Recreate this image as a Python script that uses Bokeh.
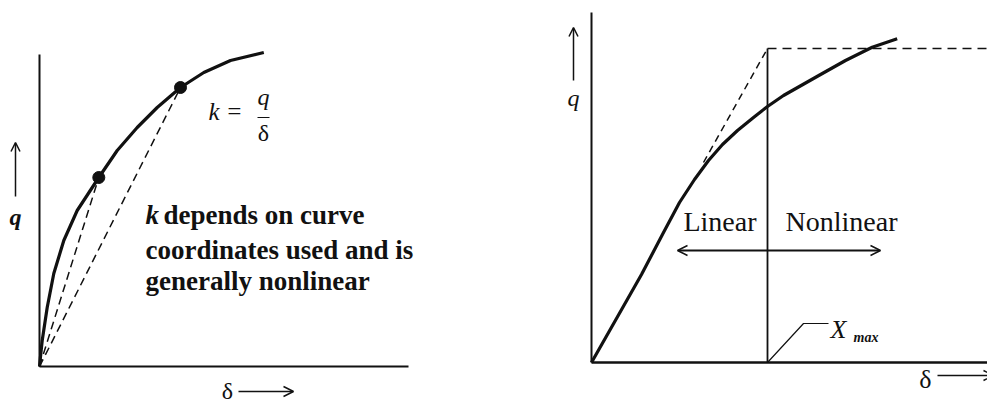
from bokeh.plotting import figure
from bokeh.layouts import row
from bokeh.models import Range1d, Arrow, OpenHead
from bokeh.core.properties import value
from bokeh.embed import file_html
from bokeh.resources import INLINE

# ---- data (deflection delta, load q), units measured from each origin ----
left_delta = [0, 1, 2.7, 7.7, 14.3, 24.3, 37.7, 59.3, 77.7, 97.7, 117.7, 141, 164.3, 191, 224.3]
left_q = [0, 10, 26, 59, 93, 126, 156, 189, 216, 239, 259, 279, 294, 306, 314]
secant_idx = [7, 11]  # curve points used for the two secant stiffnesses

right_delta = [0, 25, 50, 72, 88, 103, 117, 131, 146, 162, 176, 192, 227.3, 254, 280.7, 305.7]
right_q = [0, 44, 88, 130, 160, 183, 202, 218, 232, 245, 256, 267, 287, 302, 315.3, 323.7]
x_max = 176          # end of the linear range
q_cap = 314          # horizontal dashed limit
tangent_start = [112, 200]

note_first = "k"
note_lines = ["depends on curve", "coordinates used and is", "generally nonlinear"]
SERIF = value("Liberation Serif")
INK = "#111111"


def blank(width, xr, yr):
    f = figure(width=width, height=404, x_range=Range1d(*xr), y_range=Range1d(*yr),
               output_backend="svg", toolbar_location=None,
               x_axis_location=None, y_axis_location=None, min_border=0)
    f.grid.visible = False
    f.outline_line_color = None
    f.background_fill_color = "white"
    f.border_fill_color = "white"
    return f


# ---------------- left panel: secant stiffness ----------------
p1 = blank(470, (-39, 431), (-38, 366))
p1.line([0, 0], [0, 312], line_color=INK, line_width=2)
p1.line([0, 369], [0, 0], line_color=INK, line_width=2)
p1.line(left_delta, left_q, line_color=INK, line_width=3.2, line_join="round")
for i in secant_idx:
    p1.line([0, left_delta[i]], [0, left_q[i]], line_color=INK, line_width=1.5, line_dash="8 5")
p1.scatter([left_delta[i] for i in secant_idx], [left_q[i] for i in secant_idx],
           size=12, color=INK)

p1.text([169], [255], text=["k ="], text_font=SERIF, text_font_size="25px",
        text_font_style="italic", text_baseline="middle", text_color=INK)
p1.text([224], [270], text=["q"], text_font=SERIF, text_font_size="24px",
        text_font_style="italic", text_align="center", text_baseline="middle", text_color=INK)
p1.line([218, 230], [249, 249], line_color=INK, line_width=1)
p1.text([224], [234], text=["δ"], text_font=SERIF, text_font_size="24px",
        text_align="center", text_baseline="middle", text_color=INK)

# note block, first word in italics
p1.text([106], [152], text=[note_first], text_font=SERIF, text_font_size="27px",
        text_font_style="bold italic", text_baseline="alphabetic", text_color=INK)
p1.text([124, 106, 106], [152, 117, 86], text=note_lines, text_font=SERIF,
        text_font_size="27px", text_font_style="bold", text_baseline="alphabetic",
        text_color=INK)

# axis labels
p1.add_layout(Arrow(end=OpenHead(size=9, line_width=1.5, line_color=INK),
                    x_start=-24, y_start=170, x_end=-24, y_end=224,
                    line_width=1.5, line_color=INK))
p1.text([-24], [150], text=["q"], text_font=SERIF, text_font_size="24px",
        text_font_style="bold italic", text_align="center", text_baseline="middle",
        text_color=INK)
p1.text([188], [-24], text=["δ"], text_font=SERIF, text_font_size="24px",
        text_align="center", text_baseline="middle", text_color=INK)
p1.add_layout(Arrow(end=OpenHead(size=10, line_width=1.5, line_color=INK),
                    x_start=199, y_start=-25, x_end=254, y_end=-25,
                    line_width=1.5, line_color=INK))

# ---------------- right panel: linear / nonlinear range ----------------
p2 = blank(517, (-121, 396), (-42, 362))
p2.line([0, 0], [0, 350], line_color=INK, line_width=2)
p2.line([0, 400], [0, 0], line_color=INK, line_width=2.5)
p2.line(right_delta, right_q, line_color=INK, line_width=3.2, line_join="round")
p2.line([tangent_start[0], x_max], [tangent_start[1], q_cap], line_color=INK,
        line_width=1.5, line_dash="7 5")
p2.line([x_max, 400], [q_cap, q_cap], line_color=INK, line_width=1.5, line_dash="9 6")
p2.line([x_max, x_max], [0, q_cap], line_color=INK, line_width=1.8)

p2.text([165], [141], text=["Linear"], text_font=SERIF, text_font_size="28px",
        text_align="right", text_baseline="alphabetic", text_color=INK)
p2.text([194], [141], text=["Nonlinear"], text_font=SERIF, text_font_size="28px",
        text_baseline="alphabetic", text_color=INK)
p2.add_layout(Arrow(start=OpenHead(size=10, line_width=1.5, line_color=INK),
                    end=OpenHead(size=10, line_width=1.5, line_color=INK),
                    x_start=86, y_start=112, x_end=289, y_end=112,
                    line_width=1.8, line_color=INK))

p2.line([x_max, 212, 237], [0, 39, 39], line_color=INK, line_width=1.2)
p2.text([239], [33], text=["X"], text_font=SERIF, text_font_size="26px",
        text_font_style="italic", text_baseline="alphabetic", text_color=INK)
p2.text([262], [25], text=["max"], text_font=SERIF, text_font_size="14px",
        text_font_style="bold italic", text_baseline="alphabetic", text_color=INK)

p2.add_layout(Arrow(end=OpenHead(size=9, line_width=1.5, line_color=INK),
                    x_start=-18, y_start=282, x_end=-18, y_end=335,
                    line_width=1.5, line_color=INK))
p2.text([-18], [265], text=["q"], text_font=SERIF, text_font_size="24px",
        text_font_style="italic", text_align="center", text_baseline="middle",
        text_color=INK)
p2.text([334], [-17], text=["δ"], text_font=SERIF, text_font_size="26px",
        text_align="center", text_baseline="middle", text_color=INK)
p2.add_layout(Arrow(end=OpenHead(size=10, line_width=1.5, line_color=INK),
                    x_start=346, y_start=-13, x_end=402, y_end=-13,
                    line_width=1.5, line_color=INK))

layout = row(p1, p2, spacing=0)
open("out.html", "w").write(file_html(layout, INLINE))
